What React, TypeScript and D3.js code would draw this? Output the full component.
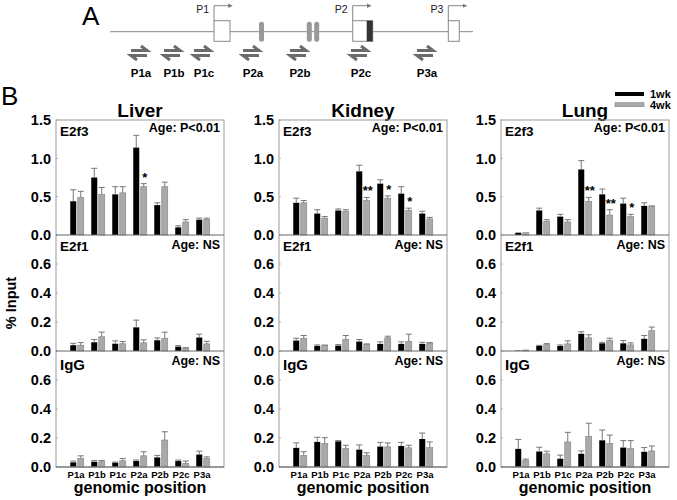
import React from "react";
import * as d3 from "d3";

const categories = ["P1a", "P1b", "P1c", "P2a", "P2b", "P2c", "P3a"];
const tissues = ["Liver", "Kidney", "Lung"];
const factors = ["E2f3", "E2f1", "IgG"];
const ageLabels = ["Age: P<0.01", "Age: NS", "Age: NS"];
const seriesNames = ["1wk", "4wk"];
const e2f3Ticks = [0, 0.5, 1.0, 1.5];
const smallTicks = [0, 0.2, 0.4, 0.6];

// Liver
const liverE2f3_1wk = [0.44, 0.75, 0.53, 1.14, 0.39, 0.1, 0.2];
const liverE2f3_1wkErr = [0.15, 0.12, 0.1, 0.16, 0.03, 0.02, 0.02];
const liverE2f3_4wk = [0.49, 0.53, 0.55, 0.63, 0.63, 0.17, 0.2];
const liverE2f3_4wkErr = [0.08, 0.09, 0.08, 0.04, 0.06, 0.03, 0.02];
const liverE2f1_1wk = [0.04, 0.06, 0.05, 0.163, 0.074, 0.03, 0.093];
const liverE2f1_1wkErr = [0.013, 0.02, 0.02, 0.05, 0.016, 0.007, 0.023];
const liverE2f1_4wk = [0.04, 0.098, 0.05, 0.056, 0.088, 0.016, 0.049];
const liverE2f1_4wkErr = [0.018, 0.032, 0.015, 0.021, 0.042, 0.007, 0.018];
const liverIgG_1wk = [0.032, 0.036, 0.03, 0.041, 0.066, 0.041, 0.086];
const liverIgG_1wkErr = [0.009, 0.009, 0.004, 0.007, 0.014, 0.007, 0.023];
const liverIgG_4wk = [0.059, 0.036, 0.043, 0.077, 0.186, 0.025, 0.059];
const liverIgG_4wkErr = [0.018, 0.009, 0.016, 0.028, 0.057, 0.016, 0.011];

// Kidney
const kidneyE2f3_1wk = [0.42, 0.28, 0.32, 0.83, 0.67, 0.54, 0.28];
const kidneyE2f3_1wkErr = [0.06, 0.05, 0.02, 0.08, 0.05, 0.09, 0.03];
const kidneyE2f3_4wk = [0.42, 0.22, 0.31, 0.45, 0.48, 0.32, 0.21];
const kidneyE2f3_4wkErr = [0.03, 0.02, 0.02, 0.04, 0.03, 0.03, 0.02];
const kidneyE2f1_1wk = [0.072, 0.035, 0.037, 0.065, 0.049, 0.049, 0.049];
const kidneyE2f1_1wkErr = [0.016, 0.007, 0.007, 0.014, 0.014, 0.014, 0.011];
const kidneyE2f1_4wk = [0.088, 0.037, 0.081, 0.044, 0.091, 0.067, 0.051];
const kidneyE2f1_4wkErr = [0.019, 0.004, 0.026, 0.005, 0.011, 0.049, 0.007];
const kidneyIgG_1wk = [0.132, 0.173, 0.177, 0.12, 0.141, 0.145, 0.193];
const kidneyIgG_1wkErr = [0.034, 0.032, 0.005, 0.032, 0.029, 0.025, 0.041];
const kidneyIgG_4wk = [0.08, 0.161, 0.127, 0.08, 0.139, 0.132, 0.134];
const kidneyIgG_4wkErr = [0.025, 0.041, 0.023, 0.018, 0.027, 0.018, 0.039];

// Lung
const lungE2f3_1wk = [0.03, 0.32, 0.24, 0.855, 0.53, 0.41, 0.38];
const lungE2f3_1wkErr = [0.0, 0.03, 0.03, 0.115, 0.07, 0.07, 0.04];
const lungE2f3_4wk = [0.03, 0.18, 0.17, 0.44, 0.26, 0.24, 0.37];
const lungE2f3_4wkErr = [0.0, 0.02, 0.03, 0.05, 0.07, 0.03, 0.01];
const lungE2f1_1wk = [0.003, 0.035, 0.035, 0.119, 0.053, 0.053, 0.084];
const lungE2f1_1wkErr = [0.0, 0.004, 0.007, 0.014, 0.007, 0.019, 0.023];
const lungE2f1_4wk = [0.007, 0.044, 0.049, 0.091, 0.074, 0.042, 0.14];
const lungE2f1_4wkErr = [0.0, 0.007, 0.021, 0.021, 0.014, 0.014, 0.025];
const lungIgG_1wk = [0.125, 0.107, 0.057, 0.091, 0.184, 0.134, 0.105];
const lungIgG_1wkErr = [0.065, 0.029, 0.025, 0.02, 0.071, 0.048, 0.029];
const lungIgG_4wk = [0.045, 0.091, 0.173, 0.211, 0.161, 0.127, 0.111];
const lungIgG_4wkErr = [0.01, 0.018, 0.066, 0.091, 0.059, 0.055, 0.034];

// significance marks on 4wk E2f3 bars
const liverStars = ["", "", "", "*", "", "", ""];
const kidneyStars = ["", "", "", "**", "*", "*", ""];
const lungStars = ["", "", "", "**", "**", "*", ""];

// Diagram (panel A)
const primerNames = ["P1a", "P1b", "P1c", "P2a", "P2b", "P2c", "P3a"];
const primerPos = [139, 172, 202, 251, 298, 359, 425];
const promoterNames = ["P1", "P2", "P3"];
const promoterPos = [214, 352.7, 448.3];

const panelData = [
  [
    [liverE2f3_1wk, liverE2f3_1wkErr, liverE2f3_4wk, liverE2f3_4wkErr, liverStars],
    [liverE2f1_1wk, liverE2f1_1wkErr, liverE2f1_4wk, liverE2f1_4wkErr, null],
    [liverIgG_1wk, liverIgG_1wkErr, liverIgG_4wk, liverIgG_4wkErr, null],
  ],
  [
    [kidneyE2f3_1wk, kidneyE2f3_1wkErr, kidneyE2f3_4wk, kidneyE2f3_4wkErr, kidneyStars],
    [kidneyE2f1_1wk, kidneyE2f1_1wkErr, kidneyE2f1_4wk, kidneyE2f1_4wkErr, null],
    [kidneyIgG_1wk, kidneyIgG_1wkErr, kidneyIgG_4wk, kidneyIgG_4wkErr, null],
  ],
  [
    [lungE2f3_1wk, lungE2f3_1wkErr, lungE2f3_4wk, lungE2f3_4wkErr, lungStars],
    [lungE2f1_1wk, lungE2f1_1wkErr, lungE2f1_4wk, lungE2f1_4wkErr, null],
    [lungIgG_1wk, lungIgG_1wkErr, lungIgG_4wk, lungIgG_4wkErr, null],
  ],
];

const FONT = "'Liberation Sans', Arial, sans-serif";
const panelX = [56, 279, 501];
const panelW = 168;
const rows = [
  { top: 120, bottom: 235, max: 1.5, ticks: e2f3Ticks },
  { top: 235, bottom: 351, max: 0.8, ticks: smallTicks },
  { top: 351, bottom: 467, max: 0.8, ticks: smallTicks },
];
const BLACK = "#000";
const GRAY = "#a9a9a9";
const FRAME = "#9a9a9a";
const ERR = "#777";

function Primer({ x }: { x: number }) {
  const y = 53;
  return (
    <g stroke="#6b6b6b" strokeWidth={3} fill="none" strokeLinecap="butt">
      <path d={`M${x - 8},${y - 2.5} L${x + 8},${y - 2.5} L${x + 2},${y - 7}`} />
      <path d={`M${x + 8},${y + 2.5} L${x - 8},${y + 2.5} L${x - 2},${y + 7}`} />
    </g>
  );
}

function Panel({ ti }: { ti: number }) {
  const x0 = panelX[ti];
  const xb = d3
    .scaleBand<string>()
    .domain(categories)
    .range([x0, x0 + panelW])
    .paddingInner(0)
    .paddingOuter(0.5);
  const bw = 6;
  const gap = 0.75;
  return (
    <g>
      <text x={x0 + panelW / 2} y={116.5} textAnchor="middle" fontSize={19} fontWeight="bold" fontFamily={FONT}>
        {tissues[ti]}
      </text>
      {rows.map((r, ri) => {
        const y = d3.scaleLinear().domain([0, r.max]).range([r.bottom, r.top]);
        const [v1, e1, v4, e4, stars] = panelData[ti][ri] as any;
        return (
          <g key={ri}>
            {r.ticks.map((t) => (
              <g key={t}>
                <line x1={x0} x2={x0 + 2} y1={y(t)} y2={y(t)} stroke="#bbb" />
                <text
                  x={x0 - 5}
                  y={y(t)}
                  dy="0.36em"
                  textAnchor="end"
                  fontSize={14.5}
                  fontWeight="bold"
                  fontFamily={FONT}
                >
                  {d3.format(".1f")(t)}
                </text>
              </g>
            ))}
            {categories.map((c, i) => {
              const cx = (xb(c) as number) + xb.bandwidth() / 2;
              const xa = cx - gap - bw;
              const xg = cx + gap;
              return (
                <g key={c}>
                  <rect x={xa} y={y(v1[i])} width={bw} height={r.bottom - y(v1[i])} fill={BLACK} />
                  <rect
                    x={xg}
                    y={y(v4[i])}
                    width={bw}
                    height={r.bottom - y(v4[i])}
                    fill={GRAY}
                    stroke="#808080"
                    strokeWidth={0.6}
                  />
                  {e1[i] > 0 && (
                    <g stroke={ERR} strokeWidth={1}>
                      <line x1={xa + bw / 2} x2={xa + bw / 2} y1={y(v1[i])} y2={y(v1[i] + e1[i])} />
                      <line x1={xa + bw / 2 - 3} x2={xa + bw / 2 + 3} y1={y(v1[i] + e1[i])} y2={y(v1[i] + e1[i])} />
                    </g>
                  )}
                  {e4[i] > 0 && (
                    <g stroke={ERR} strokeWidth={1}>
                      <line x1={xg + bw / 2} x2={xg + bw / 2} y1={y(v4[i])} y2={y(v4[i] + e4[i])} />
                      <line x1={xg + bw / 2 - 3} x2={xg + bw / 2 + 3} y1={y(v4[i] + e4[i])} y2={y(v4[i] + e4[i])} />
                    </g>
                  )}
                  {stars && stars[i] && (
                    <text
                      x={xg + bw / 2 + 1}
                      y={y(v4[i] + e4[i]) - 2}
                      textAnchor="middle"
                      fontSize={13}
                      fontWeight="bold"
                      fontFamily={FONT}
                    >
                      {stars[i]}
                    </text>
                  )}
                </g>
              );
            })}
            <text
              x={x0 + 4}
              y={r.top + (ri === 2 ? 19 : 16)}
              fontSize={ri === 2 ? 15 : 13.5}
              fontWeight="bold"
              fontFamily={FONT}
            >
              {factors[ri]}
            </text>
            <text
              x={x0 + panelW - 4}
              y={r.top + (ri === 0 ? 11.5 : 13.5)}
              textAnchor="end"
              fontSize={12.5}
              fontWeight="bold"
              fontFamily={FONT}
            >
              {ageLabels[ri]}
            </text>
          </g>
        );
      })}
      <rect x={x0} y={rows[0].top} width={panelW} height={rows[2].bottom - rows[0].top} fill="none" stroke={FRAME} />
      <line x1={x0} x2={x0 + panelW} y1={rows[1].top} y2={rows[1].top} stroke="#666" />
      <line x1={x0} x2={x0 + panelW} y1={rows[2].top} y2={rows[2].top} stroke="#666" />
      <line x1={x0} x2={x0 + panelW} y1={rows[2].bottom} y2={rows[2].bottom} stroke="#666" />
      {categories.map((c) => (
        <text
          key={c}
          x={(xb(c) as number) + xb.bandwidth() / 2 - 1}
          y={478}
          textAnchor="middle"
          fontSize={9.5}
          fontWeight="bold"
          fontFamily={FONT}
        >
          {c}
        </text>
      ))}
      <text x={x0 + panelW / 2} y={493} textAnchor="middle" fontSize={16} fontWeight="bold" fontFamily={FONT}>
        genomic position
      </text>
    </g>
  );
}

export default function App() {
  return (
    <svg width={677} height={500} style={{ position: "absolute", left: 0, top: 0, background: "#fff" }}>
      <rect width={677} height={500} fill="#fff" />
      <defs>
        <marker id="ah" viewBox="0 0 6 6" refX="5" refY="3" markerWidth="5" markerHeight="5" orient="auto">
          <path d="M0,0 L6,3 L0,6 z" fill="#777" />
        </marker>
      </defs>
      {/* Panel A */}
      <text x={82} y={25} fontSize={26} fontFamily={FONT}>A</text>
      <line x1={110} x2={473} y1={31.7} y2={31.7} stroke="#888" strokeWidth={1} />
      <rect x={214} y={20.7} width={16} height={20.6} fill="#fff" stroke="#888" />
      <rect x={352.7} y={20.7} width={20} height={20.6} fill="#fff" stroke="#888" />
      <rect x={366.7} y={20.7} width={6} height={20.6} fill="#333" />
      <rect x={448.3} y={20.7} width={11} height={20.6} fill="#fff" stroke="#888" />
      <rect x={259} y={21.7} width={5} height={20} rx={2.5} fill="#999" />
      <rect x={306.8} y={21.7} width={5} height={20} rx={2.5} fill="#999" />
      <rect x={314.2} y={21.7} width={5} height={20} rx={2.5} fill="#999" />
      {promoterPos.map((px, i) => (
        <g key={i}>
          <path
            d={`M${px},20.7 L${px},5.7 L${px + 18},5.7`}
            fill="none"
            stroke="#777"
            strokeWidth={0.9}
            markerEnd="url(#ah)"
          />
          <text x={px - 5} y={12.5} textAnchor="end" fontSize={10.5} fontFamily={FONT} fill="#222">
            {promoterNames[i]}
          </text>
        </g>
      ))}
      {primerPos.map((px, i) => (
        <g key={i}>
          <Primer x={px} />
          <text x={px + 2} y={76.5} textAnchor="middle" fontSize={11.5} fontWeight="bold" fontFamily={FONT}>
            {primerNames[i]}
          </text>
        </g>
      ))}
      {/* Panel B */}
      <text x={1} y={105} fontSize={26} fontFamily={FONT}>B</text>
      <text
        transform="translate(16,303) rotate(-90)"
        textAnchor="middle"
        fontSize={14.5}
        fontWeight="bold"
        fontFamily={FONT}
      >
        % Input
      </text>
      {tissues.map((t, ti) => (
        <Panel key={t} ti={ti} />
      ))}
      {/* Legend */}
      <rect x={615} y={92} width={29} height={4} fill={BLACK} />
      <rect x={615} y={102.7} width={29} height={4} fill={GRAY} stroke="#808080" strokeWidth={0.6} />
      <text x={650} y={97.5} fontSize={11} fontWeight="bold" fontFamily={FONT}>{seriesNames[0]}</text>
      <text x={650} y={108.7} fontSize={11} fontWeight="bold" fontFamily={FONT}>{seriesNames[1]}</text>
    </svg>
  );
}
